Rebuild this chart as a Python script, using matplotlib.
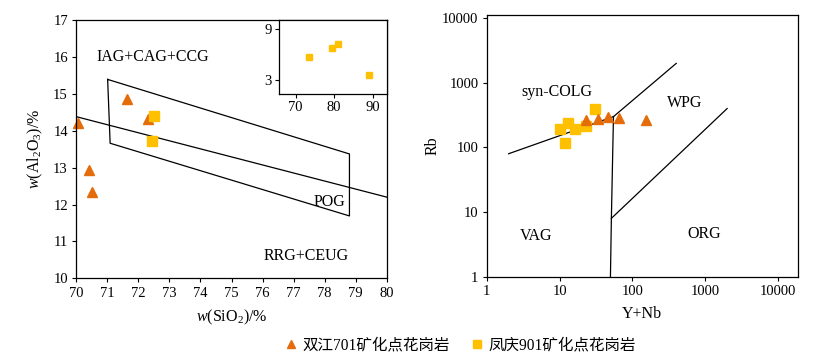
import matplotlib
matplotlib.use("Agg")
import matplotlib.pyplot as plt
from matplotlib.lines import Line2D
import numpy as np

plt.rcParams['font.family'] = ['Liberation Serif', 'Noto Sans CJK SC']
plt.rcParams['mathtext.fontset'] = 'custom'
plt.rcParams['mathtext.rm'] = 'Liberation Serif'
plt.rcParams['mathtext.it'] = 'Liberation Serif:italic'

TRI_C = '#E46C0A'
SQ_C = '#FFC000'

# ---- Left: SiO2 vs Al2O3 ----
sj_sio2 = [70.06, 71.62, 72.32, 70.41, 70.51]
sj_al2o3 = [14.2, 14.85, 14.32, 12.93, 12.34]
fq_sio2 = [72.5, 72.45]
fq_al2o3 = [14.41, 13.72]

# Inset (Fengqing only)
ins_x = [73.5, 79.4, 80.9, 89.1]
ins_y = [5.73, 6.71, 7.17, 3.56]

# Field boundaries (left)
box_x = [71.01, 71.09, 78.8, 78.8, 71.01]
box_y = [15.39, 13.66, 11.69, 13.37, 15.39]
line_x = [70.0, 80.0]
line_y = [14.38, 12.2]

# ---- Right: Y+Nb vs Rb ----
sj_ynb = [22.9, 33.5, 46.4, 66, 155]
sj_rb = [268, 279, 296, 290, 264]
fq_ynb = [10.2, 13.0, 16.2, 11.9, 22.9, 30.4]
fq_rb = [195, 243, 195, 119, 213, 398]

b1_x = [2, 55]; b1_y = [80, 300]
b2_x = [55, 400]; b2_y = [300, 2000]
b3_x = [55, 51.5, 50]; b3_y = [300, 8, 1]
b4_x = [51.5, 2000]; b4_y = [8, 400]

W, H = 818, 363
fig = plt.figure(figsize=(W/100, H/100), dpi=100)

def ax_px(l, t, r, b):
    return [l/W, 1-b/H, (r-l)/W, (b-t)/H]

lw = 0.9
fs_tick = 10.5
fs_lab = 11.5

ax1 = fig.add_axes(ax_px(76.3, 20, 386.7, 278.3))
ax1.plot(box_x, box_y, color='black', lw=lw)
ax1.plot(line_x, line_y, color='black', lw=lw)
ax1.plot(sj_sio2, sj_al2o3, '^', color=TRI_C, ms=7.5, mec=TRI_C, ls='none', clip_on=False)
ax1.plot(fq_sio2, fq_al2o3, 's', color=SQ_C, ms=6.5, mec=SQ_C, ls='none')
ax1.set_xlim(70, 80)
ax1.set_ylim(10, 17)
ax1.set_xticks(range(70, 81))
ax1.set_yticks(range(10, 18))
ax1.tick_params(direction='out', length=3, width=0.8, labelsize=fs_tick, pad=3)
ax1.set_xlabel(r'$w$(SiO$_2$)/%', fontsize=fs_lab, labelpad=6)
ax1.set_ylabel(r'$w$(Al$_2$O$_3$)/%', fontsize=fs_lab, labelpad=6)
ax1.text(72.48, 16.0, 'IAG+CAG+CCG', fontsize=fs_lab, ha='center', va='center')
ax1.text(78.17, 12.08, 'POG', fontsize=fs_lab, ha='center', va='center')
ax1.text(77.42, 10.6, 'RRG+CEUG', fontsize=fs_lab, ha='center', va='center')
for s in ax1.spines.values():
    s.set_linewidth(0.9)

axi = fig.add_axes(ax_px(279, 20, 386.7, 94))
axi.plot(ins_x, ins_y, 's', color=SQ_C, ms=4.5, mec=SQ_C, ls='none')
axi.set_xlim(65.7, 93.6)
axi.set_ylim(1.36, 10.0)
axi.set_xticks([70, 80, 90])
axi.set_yticks([3, 9])
axi.tick_params(direction='out', length=3, width=0.8, labelsize=fs_tick, pad=2)
for s in axi.spines.values():
    s.set_linewidth(0.9)

# Right axes
ax2 = fig.add_axes(ax_px(486.7, 15, 797.7, 276.7))
ax2.set_xscale('log')
ax2.set_yscale('log')
for bx, by in [(b1_x, b1_y), (b2_x, b2_y), (b3_x, b3_y), (b4_x, b4_y)]:
    ax2.plot(bx, by, color='black', lw=lw)
ax2.plot(fq_ynb, fq_rb, 's', color=SQ_C, ms=6.5, mec=SQ_C, ls='none')
ax2.plot(sj_ynb, sj_rb, '^', color=TRI_C, ms=7.5, mec=TRI_C, ls='none')
ax2.set_xlim(1, 10**4.27)
ax2.set_ylim(1, 10**4.05)
ticks = [1, 10, 100, 1000, 10000]
ax2.set_xticks(ticks)
ax2.set_xticklabels([str(t) for t in ticks])
ax2.set_yticks(ticks)
ax2.set_yticklabels([str(t) for t in ticks])
ax2.minorticks_off()
ax2.tick_params(direction='out', length=3, width=0.8, labelsize=fs_tick, pad=3)
ax2.set_xlabel('Y+Nb', fontsize=fs_lab, labelpad=6)
ax2.set_ylabel('Rb', fontsize=fs_lab, labelpad=1)
ax2.text(9.1, 730, 'syn-COLG', fontsize=fs_lab, ha='center', va='center')
ax2.text(527, 480, 'WPG', fontsize=fs_lab, ha='center', va='center')
ax2.text(4.75, 4.2, 'VAG', fontsize=fs_lab, ha='center', va='center')
ax2.text(977, 4.65, 'ORG', fontsize=fs_lab, ha='center', va='center')
for s in ax2.spines.values():
    s.set_linewidth(0.9)

handles = [
    Line2D([], [], marker='^', color=TRI_C, ls='none', ms=6),
    Line2D([], [], marker='s', color=SQ_C, ls='none', ms=5.5),
]
labels = ['双江701矿化点花岗岩', '凤庆901矿化点花岗岩']
fig.legend(handles, labels, loc='center', bbox_to_anchor=(459.5/W, 1-345/H), ncol=2,
           frameon=False, handletextpad=0.2, columnspacing=1.3,
           handlelength=1.0, prop={'family': ['Liberation Serif', 'Noto Sans CJK SC'], 'size': 11.2})

fig.savefig('out.png', dpi=100)
